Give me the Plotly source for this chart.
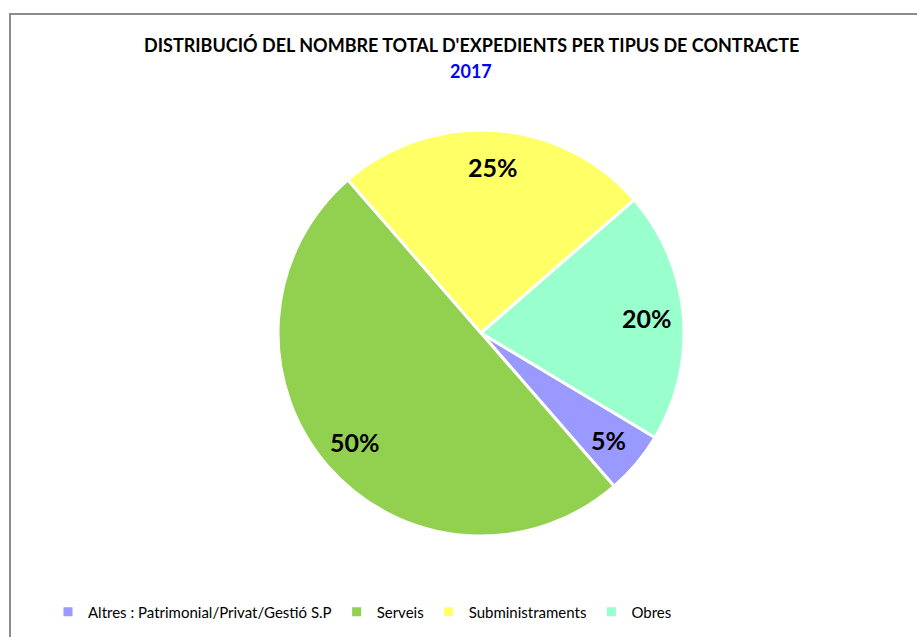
import math
import plotly.graph_objects as go

# Contract types and their share of the total number of files (2017)
categories = ["Altres : Patrimonial/Privat/Gestió S.P", "Serveis", "Subministraments", "Obres"]
shares = [5, 50, 25, 20]
colors = ["#9999FF", "#92D050", "#FFFF66", "#99FFCC"]

title_main = "DISTRIBUCIÓ DEL NOMBRE TOTAL D'EXPEDIENTS PER TIPUS DE CONTRACTE"
title_year = "2017"

W, H = 917, 637
FONT = "Lato"

# pie geometry (pixels)
cx, cy, R = 481, 333, 203
start_angle = 121  # degrees clockwise from 12 o'clock

dom_x = [(cx - R) / W, (cx + R) / W]
dom_y = [(H - cy - R) / H, (H - cy + R) / H]

fig = go.Figure(
    go.Pie(
        labels=categories,
        values=shares,
        sort=False,
        direction="clockwise",
        rotation=start_angle,
        marker=dict(colors=colors, line=dict(color="white", width=3)),
        textinfo="none",
        hoverinfo="label+percent",
        domain=dict(x=dom_x, y=dom_y),
    )
)

# percentage labels placed along each slice's mid-angle
total = sum(shares)
annotations = []
cum = 0
for v in shares:
    mid = math.radians(start_angle + 360 * (cum + v / 2) / total)
    cum += v
    px = cx + 0.82 * R * math.sin(mid)
    py = cy - 0.82 * R * math.cos(mid)
    annotations.append(dict(
        x=px / W, y=1 - py / H, xref="paper", yref="paper",
        text=f"<b>{round(100 * v / total)}%</b>", showarrow=False,
        font=dict(family=FONT, size=25, color="black"),
        xanchor="center", yanchor="middle",
    ))

annotations.append(dict(
    x=471 / W, y=1 - 45 / H, xref="paper", yref="paper",
    text=f"<b>{title_main}</b>", showarrow=False,
    font=dict(family=FONT, size=18, color="black"),
    xanchor="center", yanchor="middle",
))
annotations.append(dict(
    x=471 / W, y=1 - 71 / H, xref="paper", yref="paper",
    text=f"<b>{title_year}</b>", showarrow=False,
    font=dict(family=FONT, size=18, color="#0000FF"),
    xanchor="center", yanchor="middle",
))

fig.update_layout(
    width=W, height=H,
    margin=dict(l=0, r=0, t=0, b=0),
    paper_bgcolor="white",
    plot_bgcolor="white",
    annotations=annotations,
    showlegend=True,
    legend=dict(
        orientation="h", x=48 / W, y=1 - 612 / H,
        xanchor="left", yanchor="middle",
        traceorder="normal",
        font=dict(family=FONT, size=15, color="black"),
        itemwidth=30,
    ),
    shapes=[
        dict(type="rect", xref="paper", yref="paper",
             x0=10 / W, x1=1.02, y0=-0.02, y1=1 - 14 / H,
             line=dict(color="#8C8C8C", width=2), fillcolor="rgba(0,0,0,0)"),
    ],
)

fig.write_html("out.html")
